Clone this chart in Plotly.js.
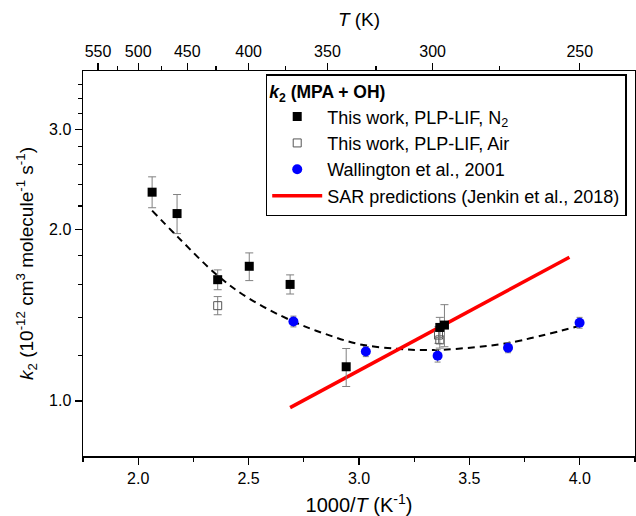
<!DOCTYPE html>
<html>
<head>
<meta charset="utf-8">
<script src="https://cdn.plot.ly/plotly-3.0.1.min.js"></script>
<style>html,body{margin:0;padding:0;background:#fff;}#chart{width:636px;height:516px;}</style>
</head>
<body>
<div id="chart"></div>
<script>
// This work, PLP-LIF, N2
const n2X = [2.063, 2.176, 2.360, 2.503, 2.688, 2.942, 3.366, 3.387];
const n2Y = [2.327, 2.134, 1.633, 1.724, 1.602, 1.148, 1.346, 1.359];
const n2Hi = [2.476, 2.305, 1.699, 1.820, 1.665, 1.236, 1.402, 1.476];
const n2Lo = [2.185, 1.968, 1.568, 1.627, 1.541, 1.060, 1.292, 1.245];
// This work, PLP-LIF, Air
const airX = [2.360, 3.360, 3.366];
const airY = [1.470, 1.305, 1.280];
const airHi = [1.525, 1.350, 1.325];
const airLo = [1.417, 1.262, 1.238];
// Wallington et al., 2001
const walX = [2.703, 3.031, 3.356, 3.675, 3.999];
const walY = [1.379, 1.221, 1.200, 1.240, 1.372];
const walErr = [0.03, 0.025, 0.03, 0.025, 0.03];
// Fit curve (dashed)
const fitX = [2.063, 2.18, 2.36, 2.50, 2.70, 2.85, 3.00, 3.17, 3.30, 3.45, 3.68, 4.00];
const fitY = [2.16, 1.94, 1.66, 1.515, 1.38, 1.31, 1.258, 1.235, 1.228, 1.235, 1.265, 1.355];
// SAR predictions (Jenkin et al., 2018)
const sarX = [2.688, 3.953];
const sarY = [0.973, 1.788];
// Axis ticks
const xTickVals = [2.0, 2.5, 3.0, 3.5, 4.0];
const xTickText = ['2.0', '2.5', '3.0', '3.5', '4.0'];
const topT = [550, 500, 450, 400, 350, 300, 250];
const topTMinor = [525, 475, 425, 375, 325, 275];
const yTickVals = [1, 2, 3];
const yTickText = ['1.0', '2.0', '3.0'];
const yMinorVals = [1.2, 1.4, 1.6, 1.8, 2.2, 2.4, 2.6, 2.8, 3.2, 3.4, 3.6];

const FONT = 'Liberation Sans, Arial, sans-serif';
const sub = (a, b) => a.map((v, i) => v - b[i]);
const errGray = '#808080';

const traces = [
  {
    x: fitX, y: fitY, mode: 'lines', type: 'scatter', showlegend: false,
    line: {color: '#000', width: 2, dash: '7px,5px', shape: 'spline', smoothing: 1}, hoverinfo: 'skip'
  },
  {
    x: sarX, y: sarY, mode: 'lines', type: 'scatter', name: 'SAR predictions (Jenkin et al., 2018)',
    line: {color: '#ff0000', width: 3.5}, legendrank: 4
  },
  {
    x: airX, y: airY, mode: 'markers', type: 'scatter', name: 'This work, PLP-LIF, Air',
    marker: {symbol: 'square-open', size: 8, color: '#555', line: {width: 1, color: '#555'}},
    error_y: {type: 'data', symmetric: false, array: sub(airHi, airY), arrayminus: sub(airY, airLo), color: errGray, thickness: 1, width: 4},
    legendrank: 2
  },
  {
    x: n2X, y: n2Y, mode: 'markers', type: 'scatter', name: 'This work, PLP-LIF, N<sub>2</sub>',
    marker: {symbol: 'square', size: 9, color: '#000'},
    error_y: {type: 'data', symmetric: false, array: sub(n2Hi, n2Y), arrayminus: sub(n2Y, n2Lo), color: errGray, thickness: 1, width: 4},
    legendrank: 1
  },
  {
    x: walX, y: walY, mode: 'markers', type: 'scatter', name: 'Wallington et al., 2001',
    marker: {symbol: 'circle', size: 10, color: '#0000ff'},
    error_y: {type: 'data', array: walErr, color: errGray, thickness: 1, width: 3},
    legendrank: 3
  },
  {
    x: [null], y: [null], xaxis: 'x2', mode: 'markers', showlegend: false, hoverinfo: 'skip'
  }
];

const layout = {
  width: 636, height: 516,
  margin: {l: 83, r: 1, t: 71, b: 60},
  paper_bgcolor: '#fff', plot_bgcolor: '#fff',
  font: {family: FONT, size: 16, color: '#000'},
  showlegend: true,
  legend: {
    x: 0.331, y: 0.992, xanchor: 'left', yanchor: 'top',
    bgcolor: '#fff', bordercolor: '#000', borderwidth: 1.5,
    font: {family: FONT, size: 18, color: '#000'},
    title: {text: '<b><i>k</i><sub>2</sub> (MPA + OH)</b>', font: {family: FONT, size: 17.5, color: '#000'}},
    itemwidth: 50, tracegroupgap: 0
  },
  xaxis: {
    range: [1.75, 4.25], tickmode: 'array', tickvals: xTickVals, ticktext: xTickText,
    ticks: 'outside', ticklen: 7, tickwidth: 1.3, tickcolor: '#000',
    showline: true, linecolor: '#000', linewidth: 1.5, mirror: true,
    showgrid: false, zeroline: false,
    tickfont: {family: FONT, size: 16, color: '#000'},
    minor: {dtick: 0.25, tick0: 1.75, ticks: 'outside', ticklen: 4, tickwidth: 1.3, tickcolor: '#000', showgrid: false},
    title: {text: '1000/<i>T</i> (K<sup>-1</sup>)', font: {family: FONT, size: 20, color: '#000'}, standoff: 12}
  },
  xaxis2: {
    overlaying: 'x', side: 'top', anchor: 'y',
    range: [1.75, 4.25], tickmode: 'array',
    tickvals: topT.map(t => 1000 / t), ticktext: topT.map(String),
    ticks: 'outside', ticklen: 7, tickwidth: 1.3, tickcolor: '#000',
    showline: false, showgrid: false, zeroline: false,
    tickfont: {family: FONT, size: 16, color: '#000'},
    minor: {tickmode: 'array', tickvals: topTMinor.map(t => 1000 / t), ticks: 'outside', ticklen: 4, tickwidth: 1.3, tickcolor: '#000', showgrid: false},
    title: {text: '<i>T</i> (K)', font: {family: FONT, size: 19, color: '#000'}, standoff: 10}
  },
  yaxis: {
    type: 'log', range: [Math.log10(0.8), Math.log10(3.8)],
    tickmode: 'array', tickvals: yTickVals, ticktext: yTickText,
    ticks: 'outside', ticklen: 7, tickwidth: 1.3, tickcolor: '#000',
    showline: true, linecolor: '#000', linewidth: 1.5, mirror: true,
    showgrid: false, zeroline: false,
    tickfont: {family: FONT, size: 16, color: '#000'},
    minor: {tickmode: 'array', tickvals: yMinorVals, ticks: 'outside', ticklen: 4, tickwidth: 1.3, tickcolor: '#000', showgrid: false},
    title: {text: '<i>k</i><sub>2</sub> (10<sup>-12</sup> cm<sup>3</sup> molecule<sup>-1</sup> s<sup>-1</sup>)', font: {family: FONT, size: 19, color: '#000'}, standoff: 10}
  }
};

Plotly.newPlot('chart', traces, layout, {staticPlot: true, displayModeBar: false});
</script>
</body>
</html>
